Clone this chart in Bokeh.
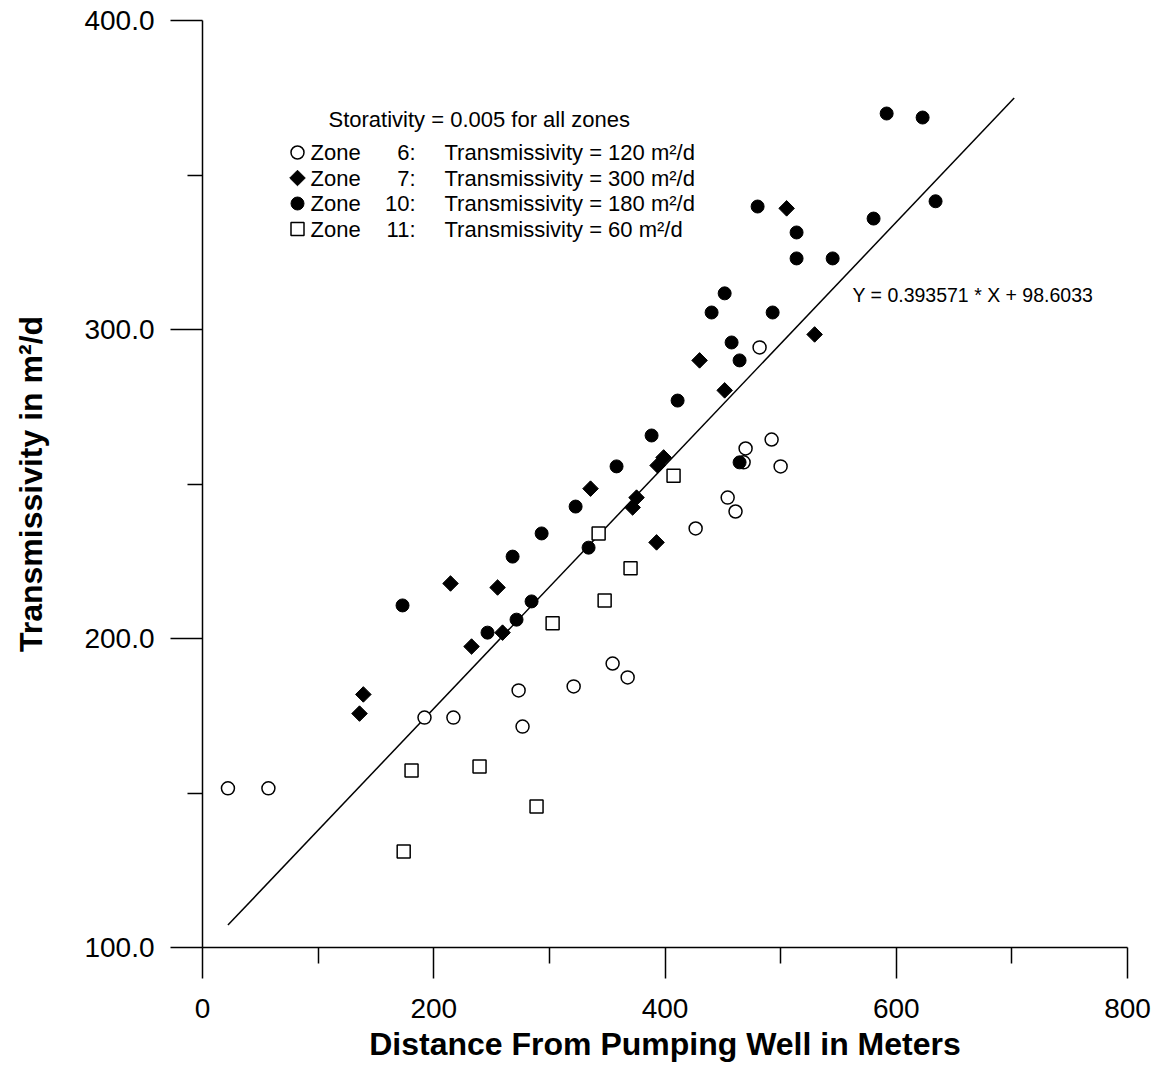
import numpy as np
from bokeh.plotting import figure
from bokeh.models import Range1d, FixedTicker, PrintfTickFormatter, Label
from bokeh.embed import file_html
from bokeh.resources import INLINE

# ---------------- data ----------------
zone6_x = [22, 57, 192, 217, 273.4, 276.8, 321, 354.7, 367.7, 426.5, 454.2, 461, 468, 469.7, 492.2, 500, 481.8]
zone6_y = [151.5, 151.5, 174.4, 174.4, 183.2, 171.5, 184.5, 191.9, 187.4, 235.6, 245.6, 241.1, 257, 261.5, 264.4, 255.7, 294.2]

zone7_x = [139.1, 135.8, 214.5, 255.2, 232.7, 259.5, 335.6, 375.4, 372, 392.7, 393.6, 398.8, 429.9, 451.6, 505.2, 529.4]
zone7_y = [181.9, 175.7, 217.8, 216.5, 197.4, 201.9, 248.5, 245.6, 242.4, 231.1, 256, 258.6, 290, 280.3, 339.2, 298.4]

zone10_x = [173, 246.5, 271.6, 284.6, 268.2, 293.3, 322.7, 333.9, 358.1, 388.4, 410.9, 440.3, 451.6, 457.6,
            464.5, 464.5, 493.1, 480.1, 513.8, 513.8, 545, 580.4, 591.7, 622.8, 634]
zone10_y = [210.7, 201.9, 206.1, 212, 226.5, 234, 242.7, 229.4, 255.7, 265.7, 277, 305.5, 311.7, 295.8,
            290, 257, 305.5, 339.8, 331.4, 323, 323, 335.9, 369.9, 368.6, 341.5]

zone11_x = [174, 180.8, 239.6, 288.9, 302.8, 342.6, 347.8, 370.2, 407.4]
zone11_y = [131.1, 157.3, 158.6, 145.6, 204.9, 234, 212.3, 222.7, 252.7]

slope = 0.393571
intercept = 98.6033
fit_x = [22, 702]

x_ticks = [0, 200, 400, 600, 800]
x_minor = [100, 300, 500, 700]
y_ticks = [100, 200, 300, 400]
y_minor = [150, 250, 350]

legend_title = "Storativity = 0.005 for all zones"
legend_zones = ["6", "7", "10", "11"]
legend_trans = ["120", "300", "180", "60"]
equation = "Y = 0.393571 * X + 98.6033"

# ---------------- figure ----------------
FONT = "Liberation Sans"
W, H = 1158, 1065
BL, BT = 202, 20          # frame left / top in pixels
FW, FH = 925, 927         # frame size in pixels

p = figure(width=W, height=H, x_range=Range1d(0, 800), y_range=Range1d(100, 400),
           output_backend="svg", toolbar_location=None,
           min_border_left=BL, min_border_right=W - BL - FW,
           min_border_top=BT, min_border_bottom=H - BT - FH)
p.outline_line_color = None
p.xgrid.visible = False
p.ygrid.visible = False
p.background_fill_color = "white"
p.border_fill_color = "white"

for ax in (p.xaxis[0], p.yaxis[0]):
    ax.axis_line_color = "black"
    ax.axis_line_width = 1.5
    ax.major_tick_line_color = "black"
    ax.major_tick_line_width = 1.5
    ax.minor_tick_line_color = "black"
    ax.minor_tick_line_width = 1.5
    ax.major_tick_in = 0
    ax.minor_tick_in = 0
    ax.major_label_text_font = FONT
    ax.major_label_text_color = "black"
    ax.major_label_text_font_size = "28px"
    ax.axis_label_text_font = FONT
    ax.axis_label_text_font_style = "bold"
    ax.axis_label_text_font_size = "32px"
    ax.axis_label_text_color = "black"

xa = p.xaxis[0]
xa.ticker = FixedTicker(ticks=x_ticks, minor_ticks=x_minor)
xa.formatter = PrintfTickFormatter(format="%d")
xa.major_tick_out = 31
xa.minor_tick_out = 16
xa.major_label_standoff = 20
xa.axis_label = "Distance From Pumping Well in Meters"
xa.axis_label_standoff = 5

ya = p.yaxis[0]
ya.ticker = FixedTicker(ticks=y_ticks, minor_ticks=y_minor)
ya.formatter = PrintfTickFormatter(format="%.1f")
ya.major_tick_out = 32
ya.minor_tick_out = 15
ya.major_label_standoff = 16
ya.axis_label = "Transmissivity in m\u00b2/d"
ya.axis_label_standoff = 32

# regression line
fit_y = [slope * v + intercept for v in fit_x]
p.line(fit_x, fit_y, line_color="black", line_width=1.5)

# points
STYLE = {
    "6": dict(marker="circle", size=13, fill_color="white", line_color="black", line_width=1.5, angle=0),
    "7": dict(marker="square", size=11, fill_color="black", line_color="black", line_width=1, angle=np.pi / 4),
    "10": dict(marker="circle", size=13, fill_color="black", line_color="black", line_width=1, angle=0),
    "11": dict(marker="square", size=13, fill_color="white", line_color="black", line_width=1.5, angle=0),
}
p.scatter(zone6_x, zone6_y, **STYLE["6"])
p.scatter(zone7_x, zone7_y, **STYLE["7"])
p.scatter(zone10_x, zone10_y, **STYLE["10"])
p.scatter(zone11_x, zone11_y, **STYLE["11"])

# ---------------- legend block (drawn by hand) ----------------
def dx(px):   # pixel column -> data x
    return (px - BL) / FW * 800.0

def dy(py):   # pixel row -> data y
    return 400.0 - (py - BT) / FH * 300.0

p.add_layout(Label(x=dx(328), y=dy(119), text=legend_title, text_font=FONT, text_font_size="22px",
                   text_baseline="middle", text_color="black"))
row_py = [152, 177.5, 203, 228.5]
for z, t, py in zip(legend_zones, legend_trans, row_py):
    p.scatter([dx(297)], [dy(py)], **STYLE[z])
    p.add_layout(Label(x=dx(310), y=dy(py), text="Zone", text_font=FONT, text_font_size="22px",
                       text_baseline="middle", text_color="black"))
    p.add_layout(Label(x=dx(415), y=dy(py), text=z + ":", text_font=FONT, text_font_size="22px",
                       text_baseline="middle", text_align="right", text_color="black"))
    p.add_layout(Label(x=dx(444), y=dy(py), text="Transmissivity = " + t + " m\u00b2/d", text_font=FONT,
                       text_font_size="22px", text_baseline="middle", text_color="black"))

p.add_layout(Label(x=dx(852), y=dy(294), text=equation, text_font=FONT, text_font_size="19.5px",
                   text_baseline="middle", text_align="left", text_color="black"))

open("out.html", "w").write(file_html(p, INLINE))
